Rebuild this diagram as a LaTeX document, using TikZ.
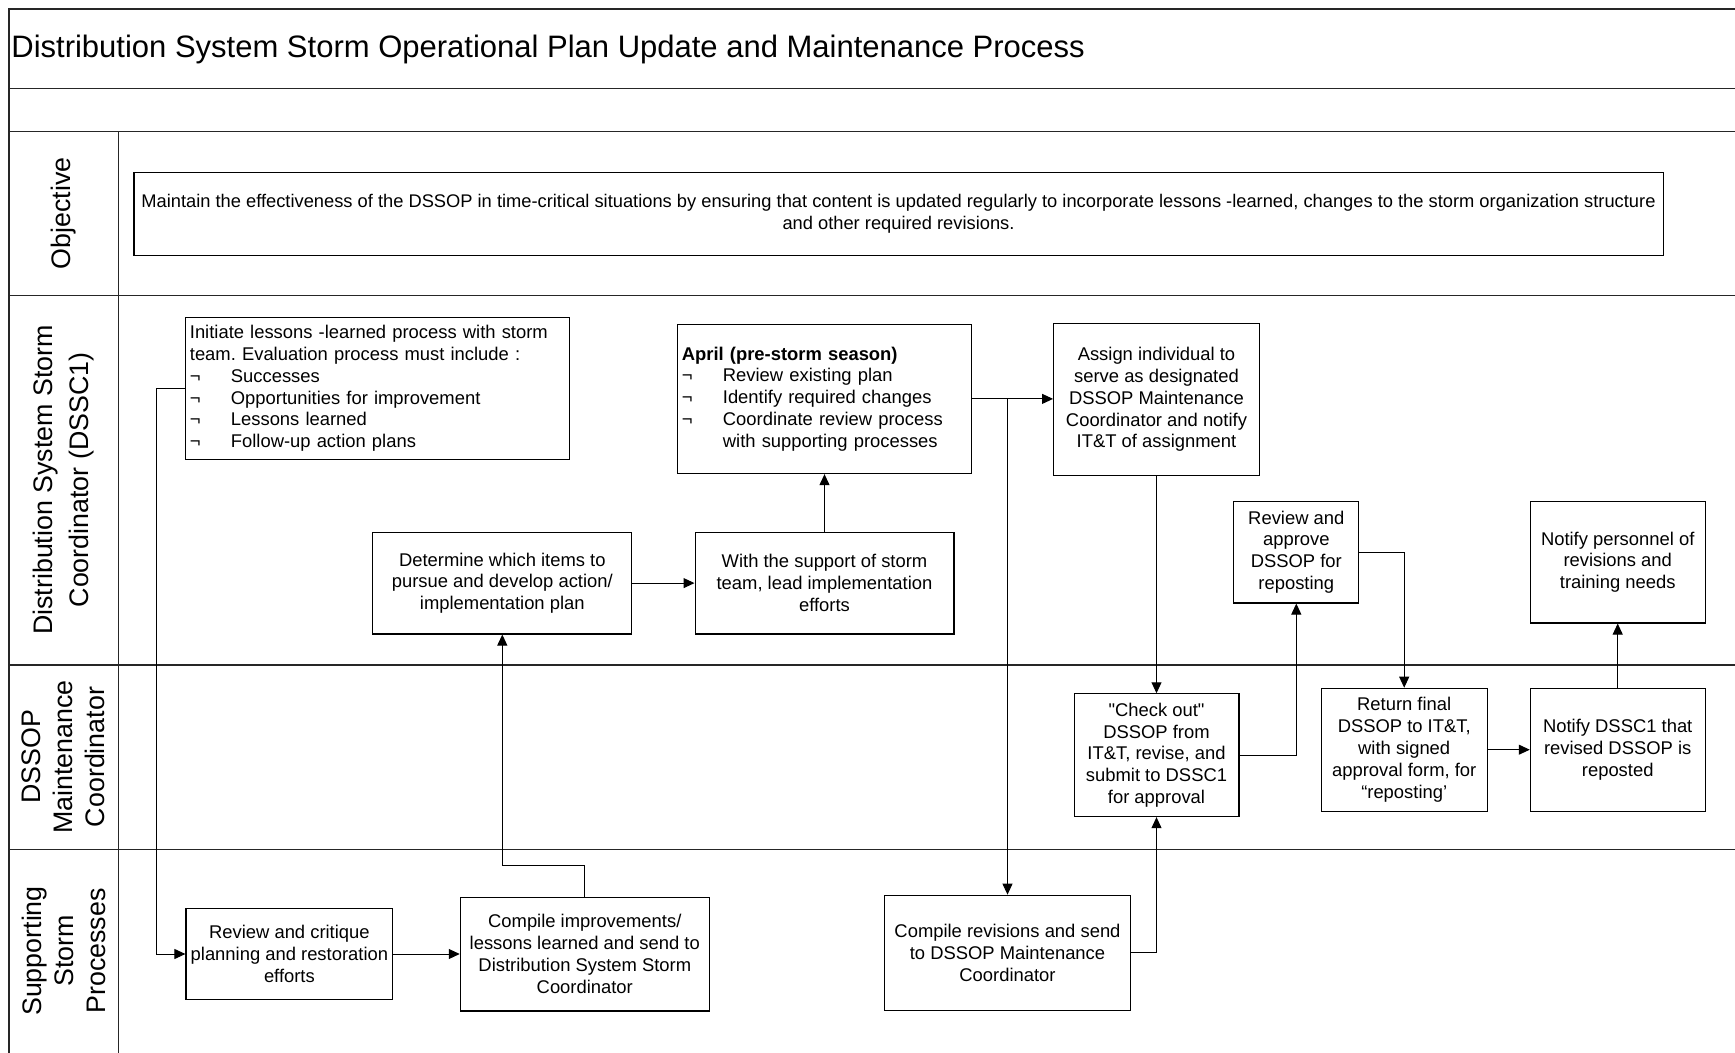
\documentclass[tikz,border=0pt]{standalone}
\usepackage{fontspec}
\setmainfont{Liberation Sans}
\usetikzlibrary{arrows.meta}
\frenchspacing
\newcommand\itm[1]{\makebox[20.5pt][l]{¬}#1}
\begin{document}
\begin{tikzpicture}[x=0.5pt,y=-0.5pt,
  frame/.style={line width=0.6pt, draw=black!85},
  stepbox/.style={draw, line width=0.55pt, inner sep=1pt, align=center,
    font=\fontsize{9.2}{10.9}\selectfont},
  listbox/.style={stepbox, inner sep=2pt, align=left},
  arr/.style={line width=0.5pt, -{Triangle[length=5.5pt,width=5pt]}},
  lane/.style={rotate=90, align=center, font=\fontsize{13.4}{16}\selectfont},
]
\useasboundingbox (0,0) rectangle (1735,1053);
\fill[white] (0,0) rectangle (1735,1053);

% outer frame, title band and swimlane rules
\draw[frame] (9,1053) -- (9,9) -- (1735,9);
\draw[frame] (9,88.5) -- (1735,88.5);
\draw[frame] (9,131.7) -- (1735,131.7);
\draw[frame] (9,295.4) -- (1735,295.4);
\draw[frame] (9,665) -- (1735,665);
\draw[frame] (9,849.8) -- (1735,849.8);
\draw[frame] (118.4,131.7) -- (118.4,1053);

% title
\node[anchor=base west, inner sep=0pt, font=\fontsize{15.5}{18}\selectfont] (title) at (11,57.7)
  {Distribution System Storm Operational Plan Update and Maintenance Process};

% lane headings
\node[lane] (lobj) at (63.7,213.5) {Objective};
\node[lane, font=\fontsize{13.4}{17.7}\selectfont] (ldssc) at (63.7,480)
  {Distribution System Storm\\Coordinator (DSSC1)};
\node[lane] (ldssop) at (63.7,757) {DSSOP\\Maintenance\\Coordinator};
\node[lane] (lsup) at (63.7,951) {Supporting\\Storm\\Processes};

% objective statement
\node[stepbox, font=\fontsize{9.15}{10.9}\selectfont, minimum width=764.55pt, minimum height=41.5pt] (obj) at (898.5,214.1)
  {Maintain the effectiveness of the DSSOP in time-critical situations by ensuring that content is updated regularly to incorporate lessons -learned, changes to the storm organization structure\\and other required revisions.};

% DSSC1 lane
\node[listbox, text width=188pt, minimum height=70.8pt] (A) at (377.9,388.4)
  {Initiate lessons -learned process with storm\\team. Evaluation process must include :\\
   \itm{Successes}\\\itm{Opportunities for improvement}\\\itm{Lessons learned}\\\itm{Follow-up action plans}};
\node[listbox, text width=142.6pt, minimum height=74.7pt] (B) at (824.5,398.9)
  {\textbf{April (pre-storm season)}\\\itm{Review existing plan}\\\itm{Identify required changes}\\
   \itm{Coordinate review process}\\\hspace*{20.5pt}with supporting processes};
\node[stepbox, minimum width=102.9pt, minimum height=76.35pt] (C) at (1156.5,399.5)
  {Assign individual to\\serve as designated\\DSSOP Maintenance\\Coordinator and notify\\IT\&T of assignment};
\node[stepbox, minimum width=129.45pt, minimum height=50.9pt] (D) at (502.3,583.1)
  {Determine which items to\\pursue and develop action/\\implementation plan};
\node[stepbox, minimum width=129.45pt, minimum height=50.9pt] (E) at (824.5,583.1)
  {With the support of storm\\team, lead implementation\\efforts};
\node[stepbox, minimum width=62.5pt, minimum height=50.9pt] (F) at (1296.3,552.1)
  {Review and\\approve\\DSSOP for\\reposting};
\node[stepbox, minimum width=87.4pt, minimum height=60.9pt] (G) at (1617.7,562.1)
  {Notify personnel of\\revisions and\\training needs};

% DSSOP Maintenance Coordinator lane
\node[stepbox, minimum width=82.45pt, minimum height=61.4pt] (H) at (1156.5,755.2)
  {\textquotedbl Check out\textquotedbl\\DSSOP from\\IT\&T, revise, and\\submit to DSSC1\\for approval};
\node[stepbox, minimum width=82.95pt, minimum height=61.45pt] (I) at (1404.2,749.7)
  {Return final\\DSSOP to IT\&T,\\with signed\\approval form, for\\“reposting’};
\node[stepbox, minimum width=87.4pt, minimum height=61.45pt] (J) at (1617.7,749.7)
  {Notify DSSC1 that\\revised DSSOP is\\reposted};

% supporting storm processes lane
\node[stepbox, minimum width=103.45pt, minimum height=45.35pt] (K) at (289.4,954)
  {Review and critique\\planning and restoration\\efforts};
\node[stepbox, minimum width=124.5pt, minimum height=56.95pt] (L) at (584.8,954)
  {Compile improvements/\\lessons learned and send to\\Distribution System Storm\\Coordinator};
\node[stepbox, minimum width=123.4pt, minimum height=57.5pt] (M) at (1007.5,952.7)
  {Compile revisions and send\\to DSSOP Maintenance\\Coordinator};

% connectors
\coordinate (aleft) at (156,388.4);
\coordinate (ljog) at (540,865.3);
\draw[arr] (A.west) -- (aleft) |- (K.west);
\draw[arr] (K.east) -- (L.west);
\draw[arr] (L.north) |- (ljog) -| (D.south);
\draw[arr] (D.east) -- (E.west);
\draw[arr] (E.north) -- (B.south);
\draw[arr] (B.east) -- (B.east -| C.west);
\draw[arr] (B.east -| M.north) -- (M.north);
\draw[arr] (C.south) -- (H.north);
\draw[arr] (M.east) -| (H.south);
\draw[arr] (H.east) -| (F.south);
\draw[arr] (F.east) -| (I.north);
\draw[arr] (I.east) -- (J.west);
\draw[arr] (J.north) -- (G.south);
\end{tikzpicture}
\end{document}
